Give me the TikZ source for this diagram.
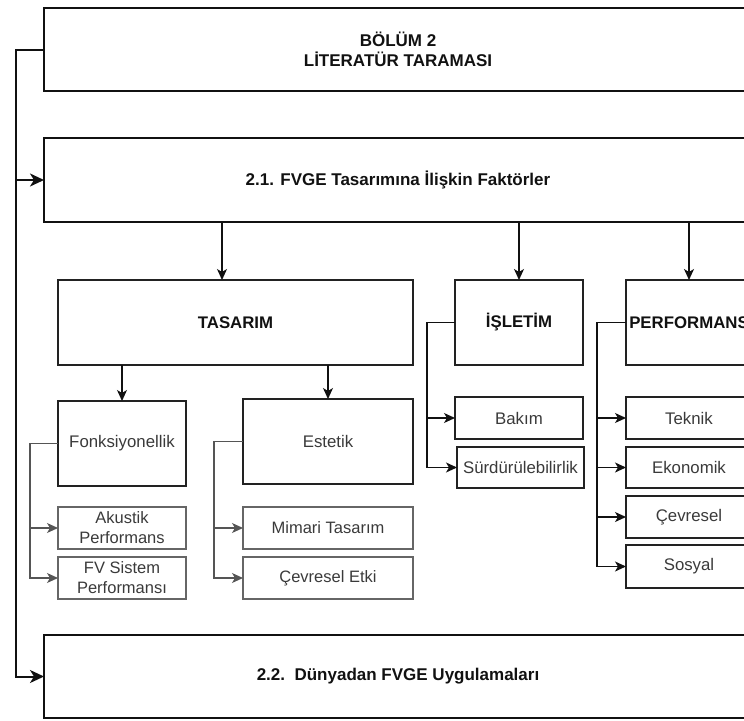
\documentclass[tikz,border=0pt]{standalone}
\usepackage{fontspec}
\setmainfont{Liberation Sans}
\usetikzlibrary{arrows.meta}

\definecolor{ink}{HTML}{111111}
\definecolor{frame}{HTML}{222222}
\definecolor{soft}{HTML}{555555}
\definecolor{leafline}{HTML}{666666}
\definecolor{leaftext}{HTML}{3A3A3A}

\begin{document}
\begin{tikzpicture}[x=1pt,y=-1pt,
  mainbox/.style={draw=ink, line width=2pt, inner sep=0pt, outer sep=0pt,
    minimum width=708pt, align=center, text=ink,
    font=\fontsize{17}{20.5}\selectfont\bfseries},
  headbox/.style={draw=frame, line width=1.4pt, inner sep=0pt, outer sep=0pt,
    minimum height=85pt, align=center, text=ink,
    font=\fontsize{16.8}{20}\selectfont\bfseries},
  midbox/.style={draw=frame, line width=1.4pt, inner sep=0pt, outer sep=0pt,
    minimum height=85pt, align=center, text=leaftext,
    font=\fontsize{16.8}{20}\selectfont},
  leafgrey/.style={draw=leafline, line width=1.2pt, inner sep=0pt, outer sep=0pt,
    minimum height=42pt, align=center, text=leaftext,
    font=\fontsize{16.5}{20}\selectfont},
  leafdark/.style={draw=frame, line width=1.4pt, inner sep=0pt, outer sep=0pt,
    minimum height=42pt, align=center, text=leaftext,
    font=\fontsize{16.8}{20}\selectfont},
  trunk/.style={draw=ink, line width=2pt,
    -{Stealth[length=14pt,width=13pt,inset=4pt]}},
  arr/.style={draw=ink, line width=1.4pt,
    -{Stealth[length=11pt,width=10pt,inset=3pt]}},
  greyarr/.style={draw=soft, line width=1.2pt,
    -{Stealth[length=11pt,width=10pt,inset=3pt]}}
]
\useasboundingbox (0,0) rectangle (744,720);
\clip (0,0) rectangle (744,720);

% chapter and section boxes
\node[mainbox, minimum height=83pt] (b1)  at (398,49.5) {BÖLÜM 2\\LİTERATÜR TARAMASI};
\node[mainbox, minimum height=84pt] (b21) at (398,180) {2.1. FVGE Tasarımına İlişkin Faktörler};
\node[mainbox, minimum height=83pt] (b22) at (398,676.5) {2.2.\ \ Dünyadan FVGE Uygulamaları};

% factor groups
\node[headbox, minimum width=355pt] (tas)  at (235.5,322.5) {TASARIM};
\node[headbox, minimum width=128pt] (isl)  at (519,322.5) {İŞLETİM};
\node[headbox, minimum width=126pt] (perf) at (689,322.5) {PERFORMANS};

% design sub-groups
\node[midbox, minimum width=128pt] (fonk) at (122,443.5) {Fonksiyonellik};
\node[midbox, minimum width=170pt] (est)  at (328,441.5) {Estetik};

% design leaves
\node[leafgrey, minimum width=128pt] (aku) at (122,528) {Akustik\\Performans};
\node[leafgrey, minimum width=128pt] (fvs) at (122,578) {FV Sistem\\Performansı};
\node[leafgrey, minimum width=170pt] (mim) at (328,528) {Mimari Tasarım};
\node[leafgrey, minimum width=170pt] (cev) at (328,578) {Çevresel Etki};

% operation leaves
\node[leafdark, minimum width=128pt] (bak) at (519,418) {Bakım};
\node[leafdark, minimum width=127pt, minimum height=41pt] (sur) at (520.5,467.5) {Sürdürülebilirlik};

% performance leaves
\node[leafdark, minimum width=126pt] (tek) at (689,418) {Teknik};
\node[leafdark, minimum width=126pt, minimum height=41pt] (eko) at (689,467.5) {Ekonomik};
\node[leafdark, minimum width=126pt] (cvr) at (689,517) {Çevresel};
\node[leafdark, minimum width=126pt, minimum height=43pt] (sos) at (689,566.5) {Sosyal};

% trunk on the left
\draw[trunk] (b1.west) -- ++(-28,0) |- (b22.west);
\draw[trunk] (b1.west) ++(-28,0) |- (b21.west);

% section to groups
\coordinate (tasin) at (222,280);
\draw[arr] (b21.south -| tasin) -- (tasin);
\draw[arr] (b21.south -| isl.north) -- (isl.north);
\draw[arr] (b21.south -| perf.north) -- (perf.north);

% design to sub-groups
\draw[arr] (tas.south -| fonk.north) -- (fonk.north);
\draw[arr] (tas.south -| est.north) -- (est.north);

% design leaves
\draw[greyarr] (fonk.west) -- ++(-28,0) |- (aku.west);
\draw[greyarr] (fonk.west) ++(-28,0) |- (fvs.west);
\draw[greyarr] (est.west) -- ++(-29,0) |- (mim.west);
\draw[greyarr] (est.west) ++(-29,0) |- (cev.west);

% operation leaves
\draw[arr] (isl.west) -- ++(-28,0) |- (bak.west);
\draw[arr] (isl.west) ++(-28,0) |- (sur.west);

% performance leaves
\draw[arr] (perf.west) -- ++(-29,0) |- (tek.west);
\draw[arr] (perf.west) ++(-29,0) |- (eko.west);
\draw[arr] (perf.west) ++(-29,0) |- (cvr.west);
\draw[arr] (perf.west) ++(-29,0) |- (sos.west);
\end{tikzpicture}
\end{document}
